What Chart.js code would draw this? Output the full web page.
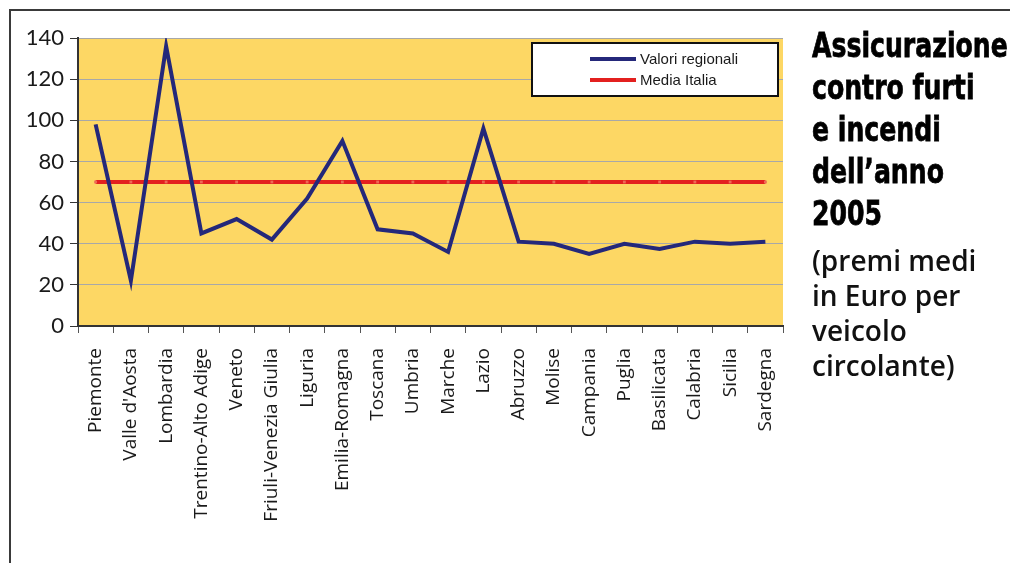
<!DOCTYPE html>
<html>
<head>
<meta charset="utf-8">
<script src="https://cdn.jsdelivr.net/npm/chart.js@4/dist/chart.umd.min.js"></script>
<style>
  html,body{margin:0;padding:0;background:#fff;}
  #wrap{position:relative;width:1010px;height:563px;overflow:hidden;}
  #frame{position:absolute;left:9px;top:9px;right:-5px;bottom:-5px;border-top:2px solid #3a3a3a;border-left:2px solid #3a3a3a;}
  canvas{position:absolute;left:0;top:0;}
  #title{position:absolute;left:812px;top:24px;font-family:"DejaVu Sans",sans-serif;font-weight:bold;font-size:34px;line-height:42px;color:#000;white-space:nowrap;transform:scaleX(0.74);transform-origin:0 0;-webkit-text-stroke:0.8px #000;}
  #sub{position:absolute;left:812px;top:243px;font-family:"Open Sans",Lato,sans-serif;font-weight:600;font-size:28px;line-height:35px;color:#111;white-space:nowrap;}
</style>
</head>
<body>
<div id="wrap">
  <div id="frame"></div>
  <canvas id="c" width="1010" height="563"></canvas>
  <div id="title">Assicurazione<br>contro furti<br>e incendi<br>dell’anno<br>2005</div>
  <div id="sub">(premi medi<br>in Euro per<br>veicolo<br>circolante)</div>
</div>
<script>
const regions = ['Piemonte','Valle d\'Aosta','Lombardia','Trentino-Alto Adige','Veneto','Friuli-Venezia Giulia','Liguria','Emilia-Romagna','Toscana','Umbria','Marche','Lazio','Abruzzo','Molise','Campania','Puglia','Basilicata','Calabria','Sicilia','Sardegna'];
const valoriRegionali = [98,22,136,45,52,42,62,90,47,45,36,96,41,40,35,40,37.5,41,40,41];
const mediaItalia = [70,70,70,70,70,70,70,70,70,70,70,70,70,70,70,70,70,70,70,70];
const yTicks = [0,20,40,60,80,100,120,140];

function el(id){return document.getElementById(id);}

// yellow plot background
const bgPlugin = {
  id:'bg',
  beforeDraw(chart){
    const a=chart.chartArea, ctx=chart.ctx;
    ctx.save(); ctx.fillStyle='#FDD764'; ctx.fillRect(a.left,a.top,a.right-a.left,a.bottom-a.top); ctx.restore();
  }
};

// boxed legend inside the plot
const legendBox = {
  id:'legendBox',
  afterDraw(chart){
    const ctx=chart.ctx;
    const x=532, y=43, w=246, h=53;
    ctx.save();
    ctx.fillStyle='#fff'; ctx.fillRect(x,y,w,h);
    ctx.strokeStyle='#111'; ctx.lineWidth=2; ctx.strokeRect(x,y,w,h);
    ctx.font='15px "Liberation Sans Narrow","Liberation Sans",Arial,sans-serif';
    ctx.textBaseline='middle';
    chart.data.datasets.forEach((ds,i)=>{
      const ly=y+16+i*21;
      ctx.strokeStyle=ds.borderColor; ctx.lineWidth=4;
      ctx.beginPath(); ctx.moveTo(x+58,ly); ctx.lineTo(x+104,ly); ctx.stroke();
      ctx.fillStyle='#1a1a1a'; ctx.fillText(ds.label,x+108,ly+1);
    });
    ctx.restore();
  }
};

new Chart(el('c').getContext('2d'),{
  type:'line',
  data:{
    labels:regions,
    datasets:[
      {label:'Valori regionali',data:valoriRegionali,borderColor:'#24287A',borderWidth:4,pointRadius:0,tension:0,order:1},
      {label:'Media Italia',data:mediaItalia,borderColor:'#E3201F',borderWidth:4,pointRadius:2,pointStyle:'rect',pointBackgroundColor:'#EE6A55',pointBorderWidth:0,tension:0,order:2}
    ]
  },
  options:{
    responsive:false,
    animation:false,
    layout:{padding:{left:0,top:38,right:227,bottom:0}},
    plugins:{legend:{display:false},tooltip:{enabled:false}},
    scales:{
      x:{
        offset:true,
        grid:{offset:true,drawOnChartArea:false,drawTicks:true,tickLength:7,color:'#555'},
        border:{color:'#333',width:2},
        ticks:{autoSkip:false,maxRotation:90,minRotation:90,padding:15,color:'#1a1a1a',font:{family:'"Open Sans"',size:19}},
        afterFit(s){s.height=237;}
      },
      y:{
        min:0,max:140,
        afterBuildTicks(s){s.ticks=yTicks.map(v=>({value:v}));},
        grid:{color:'#A8A8A8',lineWidth:1,tickLength:8,tickColor:'#333'},
        border:{color:'#333',width:2},
        ticks:{padding:6,color:'#1a1a1a',font:{family:'Lato',size:22}},
        afterFit(s){s.width=78;}
      }
    }
  },
  plugins:[bgPlugin,legendBox]
});
</script>
</body>
</html>
